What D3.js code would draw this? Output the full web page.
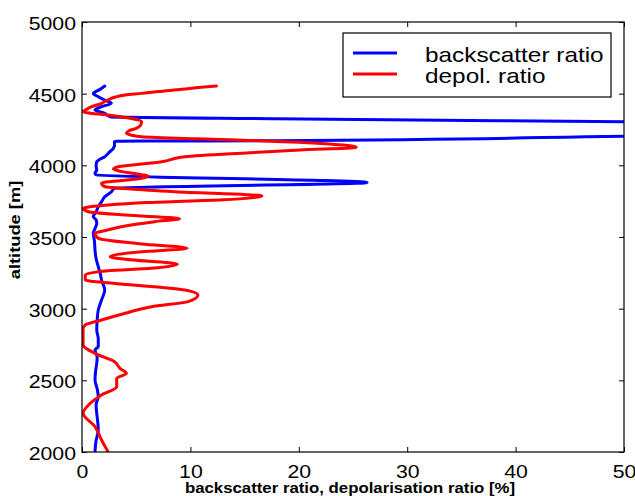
<!DOCTYPE html>
<html>
<head>
<meta charset="utf-8">
<script src="https://cdn.jsdelivr.net/npm/d3@7"></script>
<style>
  html, body { margin: 0; padding: 0; background: #fff; }
  svg text { font-family: "Liberation Sans", Arial, Helvetica, sans-serif; fill: #000; }
</style>
</head>
<body>
<svg id="chart" width="635" height="496"></svg>
<script>
// Axis ticks
const xTicks = [0, 10, 20, 30, 40, 50];
const yTicks = [2000, 2500, 3000, 3500, 4000, 4500, 5000];
const seriesNames = ["backscatter ratio", "depol. ratio"];
const seriesColors = ["#0000ff", "#ff0000"];

// Backscatter ratio profile (altitude in m, top to bottom)
const backscatterAlt = [4553, 4530, 4502, 4479, 4455, 4433, 4409, 4386, 4363, 4339,
  4325, 4304, 4268, 4203, 4172, 4168, 4145, 4119, 4090, 4060, 4040, 4025, 3995, 3967,
  3945, 3935, 3880, 3840, 3815, 3781, 3745, 3711, 3675, 3642, 3620, 3595, 3560, 3526,
  3470, 3409, 3350, 3293, 3240, 3200, 3130, 3060, 2991, 2920, 2851, 2790, 2735, 2712,
  2660, 2619, 2560, 2502, 2440, 2386, 2330, 2270, 2210, 2153, 2080, 2002];
const backscatterVal = [2.1, 1.66, 1.04, 1.5, 2.1, 2.7, 1.8, 1.2, 2.1, 2.6,
  17.8, 50, 104, 50, 17.8, 3.0, 3.0, 2.9, 2.5, 2.1, 1.6, 1.36, 1.3, 1.36,
  1.2, 1.3, 26.3, 3.0, 2.7, 2.1, 1.8, 1.5, 1.3, 1.04, 1.3, 1.36, 1.2, 1.04,
  1.15, 1.2, 1.3, 1.5, 1.7, 1.8, 2.1, 1.8, 1.5, 1.4, 1.36, 1.5, 1.5, 1.2,
  1.4, 1.36, 1.25, 1.2, 1.4, 1.5, 1.3, 1.36, 1.45, 1.5, 1.3, 1.2];

// Depolarisation ratio profile (altitude in m, top to bottom)
const depolAlt = [4553, 4545, 4530, 4515, 4502, 4491, 4475, 4456, 4433, 4409, 4390,
  4374, 4362, 4351, 4330, 4304, 4280, 4258, 4240, 4223, 4210, 4200, 4185, 4170, 4150,
  4126, 4107, 4088, 4060, 4025, 3990, 3974, 3956, 3935, 3926, 3910, 3875, 3851, 3835,
  3816, 3786, 3760, 3740, 3723, 3700, 3676, 3653, 3628, 3607, 3577, 3544, 3526, 3491,
  3451, 3421, 3397, 3362, 3344, 3310, 3282, 3265, 3235, 3200, 3181, 3130, 3095, 3049,
  3014, 2968, 2921, 2886, 2860, 2800, 2746, 2688, 2630, 2584, 2549, 2514, 2456, 2398,
  2328, 2270, 2176, 2084, 2002];
const depolVal = [12.4, 11.0, 9.2, 7.0, 5.5, 4.0, 3.0, 2.4, 1.8, 0.9, 0.4,
  0.1, 1.0, 2.4, 4.3, 5.5, 5.4, 5.0, 4.3, 4.1, 4.6, 5.5, 10.5, 17.0, 22.5,
  25.3, 20.1, 15.5, 9.5, 7.35, 3.35, 2.9, 3.7, 5.5, 6.1, 5.5, 1.8, 2.1, 4.5,
  8.6, 16.6, 13.0, 6.0, 2.4, 0.1, 0.6, 4.0, 9.0, 6.7, 4.0, 2.1, 1.2, 1.5,
  5.5, 9.7, 5.5, 2.6, 4.0, 8.8, 6.4, 2.4, 0.3, 0.3, 2.4, 9.5, 10.7, 9.8,
  6.4, 4.0, 1.8, 0.3, 0.1, 0.1, 0.1, 1.2, 3.0, 3.5, 4.1, 3.2, 3.2, 1.8,
  0.6, 0.1, 1.2, 1.8, 2.4];

const W = 635, H = 496;
const plot = { left: 82, top: 22, right: 624, bottom: 452 };
const TEXT_STRETCH = 1.12;

const svg = d3.select("#chart");

const x = d3.scaleLinear().domain([0, 50]).range([plot.left, plot.right]);
const y = d3.scaleLinear().domain([2000, 5000]).range([plot.bottom, plot.top]);

// Clip region for the profiles
svg.append("defs").append("clipPath").attr("id", "plot-clip")
  .append("rect")
  .attr("x", plot.left).attr("y", plot.top)
  .attr("width", plot.right - plot.left).attr("height", plot.bottom - plot.top);

// Axes with inward ticks on all four sides
const tickLen = 5;
function styleAxis(g) {
  g.select(".domain").remove();
  g.selectAll(".tick line").attr("stroke", "#000").attr("stroke-width", 1);
}

svg.append("g")
  .attr("transform", `translate(0,${plot.bottom})`)
  .call(d3.axisBottom(x).tickValues(xTicks).tickSizeInner(-tickLen).tickSizeOuter(0).tickFormat(d3.format("d")))
  .call(styleAxis)
  .call(g => g.selectAll(".tick text")
    .attr("y", null).attr("dy", null)
    .attr("transform", `translate(0,25.5) scale(${TEXT_STRETCH},1)`)
    .attr("font-size", 19).attr("text-anchor", "middle"));

svg.append("g")
  .attr("transform", `translate(0,${plot.top})`)
  .call(d3.axisTop(x).tickValues(xTicks).tickSizeInner(-tickLen).tickSizeOuter(0).tickFormat(""))
  .call(styleAxis);

svg.append("g")
  .attr("transform", `translate(${plot.left},0)`)
  .call(d3.axisLeft(y).tickValues(yTicks).tickSizeInner(-tickLen).tickSizeOuter(0).tickFormat(d3.format("d")))
  .call(styleAxis)
  .call(g => g.selectAll(".tick text")
    .attr("x", null).attr("dy", null)
    .attr("transform", `translate(-6,7.5) scale(${TEXT_STRETCH},1)`)
    .attr("font-size", 19).attr("text-anchor", "end"));

svg.append("g")
  .attr("transform", `translate(${plot.right},0)`)
  .call(d3.axisRight(y).tickValues(yTicks).tickSizeInner(-tickLen).tickSizeOuter(0).tickFormat(""))
  .call(styleAxis);

// Profiles
const line = d3.line()
  .x(d => x(d.v))
  .y(d => y(d.alt))
  .curve(d3.curveMonotoneY);

const backscatter = backscatterAlt.map((alt, i) => ({ alt, v: backscatterVal[i] }));
const depol = depolAlt.map((alt, i) => ({ alt, v: depolVal[i] }));

const lines = svg.append("g").attr("clip-path", "url(#plot-clip)");
[backscatter, depol].forEach((data, i) => {
  lines.append("path")
    .datum(data)
    .attr("d", line)
    .attr("fill", "none")
    .attr("stroke", seriesColors[i])
    .attr("stroke-width", 3)
    .attr("stroke-linejoin", "round")
    .attr("stroke-linecap", "round");
});

// Frame
svg.append("rect")
  .attr("x", plot.left).attr("y", plot.top)
  .attr("width", plot.right - plot.left).attr("height", plot.bottom - plot.top)
  .attr("fill", "none").attr("stroke", "#000").attr("stroke-width", 1.2);

// Legend
const legend = svg.append("g").attr("transform", "translate(343,33)");
legend.append("rect")
  .attr("width", 268).attr("height", 64)
  .attr("fill", "#fff").attr("stroke", "#000").attr("stroke-width", 1.2);
seriesNames.forEach((name, i) => {
  const ly = 20 + i * 21;
  legend.append("line")
    .attr("x1", 10).attr("x2", 54).attr("y1", ly).attr("y2", ly)
    .attr("stroke", seriesColors[i]).attr("stroke-width", 3);
  legend.append("text")
    .attr("transform", `translate(82,${ly + 8.5}) scale(1.16,1)`)
    .attr("font-size", 21)
    .text(name);
});

// Axis titles
svg.append("text")
  .attr("transform", `translate(350,493) scale(${TEXT_STRETCH},1)`)
  .attr("text-anchor", "middle")
  .attr("font-size", 15).attr("font-weight", "bold")
  .text("backscatter ratio, depolarisation ratio [%]");

svg.append("text")
  .attr("transform", "translate(20,230) rotate(-90) scale(1.22,1)")
  .attr("text-anchor", "middle")
  .attr("font-size", 15).attr("font-weight", "bold")
  .text("altitude [m]");
</script>
</body>
</html>
